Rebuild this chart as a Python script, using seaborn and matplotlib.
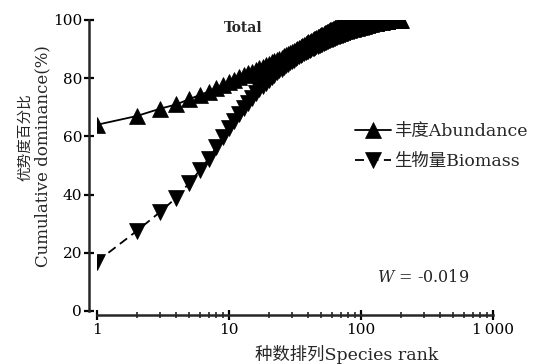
import numpy as np
import pandas as pd
import matplotlib
matplotlib.use("Agg")
import matplotlib.pyplot as plt
import seaborn as sns

# Cumulative dominance (%) of species ranked 1..200
abundance = [
    64.0, 67.0, 69.5, 71.0, 72.8, 74.2, 75.4, 76.6, 77.7, 78.7,
    79.5, 80.3, 81.0, 81.7, 82.3, 82.9, 83.5, 84.0, 84.5, 85.0,
    85.5, 85.9, 86.3, 86.7, 87.1, 87.5, 87.9, 88.3, 88.7, 89.1,
    89.4, 89.8, 90.1, 90.5, 90.8, 91.1, 91.4, 91.7, 92.0, 92.3,
    92.6, 92.9, 93.1, 93.4, 93.6, 93.9, 94.1, 94.3, 94.6, 94.8,
    95.0, 95.2, 95.4, 95.6, 95.8, 96.0, 96.2, 96.4, 96.5, 96.7,
    96.9, 97.0, 97.2, 97.3, 97.4, 97.6, 97.7, 97.8, 97.9, 98.0,
    98.1, 98.2, 98.3, 98.4, 98.5, 98.6, 98.7, 98.8, 98.85, 98.9,
    98.95, 99.0, 99.05, 99.1, 99.15, 99.2, 99.25, 99.3, 99.35, 99.4,
    99.43, 99.46, 99.49, 99.52, 99.55, 99.58, 99.6, 99.62, 99.64, 99.66,
    99.68, 99.7, 99.71, 99.72, 99.73, 99.74, 99.75, 99.76, 99.77, 99.78,
    99.79, 99.8, 99.81, 99.82, 99.83, 99.84, 99.85, 99.86, 99.87, 99.88,
    99.88, 99.89, 99.89, 99.9, 99.9, 99.91, 99.91, 99.92, 99.92, 99.93,
    99.93, 99.93, 99.94, 99.94, 99.94, 99.95, 99.95, 99.95, 99.95, 99.96,
    99.96, 99.96, 99.96, 99.96, 99.97, 99.97, 99.97, 99.97, 99.97, 99.97,
    99.98, 99.98, 99.98, 99.98, 99.98, 99.98, 99.98, 99.98, 99.98, 99.98,
    99.98, 99.98, 99.98, 99.98, 99.98, 99.99, 99.99, 99.99, 99.99, 99.99,
    99.99, 99.99, 99.99, 99.99, 99.99, 99.99, 99.99, 99.99, 99.99, 99.99,
    99.99, 99.99, 99.99, 99.99, 99.99, 100.0, 100.0, 100.0, 100.0, 100.0,
    100.0, 100.0, 100.0, 100.0, 100.0, 100.0, 100.0, 100.0, 100.0, 100.0,
]

biomass = [
    17.0, 27.5, 34.0, 39.0, 44.0, 48.3, 52.3, 56.2, 59.8, 62.8,
    65.3, 67.6, 69.7, 71.6, 73.3, 74.8, 76.2, 77.4, 78.5, 79.5,
    80.4, 81.2, 82.0, 82.7, 83.3, 83.9, 84.5, 85.0, 85.5, 86.0,
    86.4, 86.8, 87.2, 87.6, 88.0, 88.3, 88.6, 88.9, 89.2, 89.5,
    89.8, 90.1, 90.3, 90.5, 90.7, 90.9, 91.1, 91.3, 91.5, 91.7,
    91.9, 92.1, 92.3, 92.5, 92.7, 92.9, 93.0, 93.2, 93.3, 93.5,
    93.6, 93.8, 93.9, 94.0, 94.2, 94.3, 94.4, 94.5, 94.6, 94.7,
    94.8, 94.9, 95.0, 95.1, 95.2, 95.3, 95.4, 95.5, 95.6, 95.7,
    95.8, 95.9, 96.0, 96.1, 96.15, 96.2, 96.3, 96.35, 96.4, 96.5,
    96.55, 96.6, 96.7, 96.75, 96.8, 96.85, 96.9, 96.95, 97.0, 97.05,
    97.1, 97.15, 97.2, 97.25, 97.3, 97.35, 97.4, 97.45, 97.5, 97.55,
    97.6, 97.65, 97.7, 97.75, 97.8, 97.85, 97.9, 97.95, 98.0, 98.05,
    98.1, 98.15, 98.2, 98.25, 98.3, 98.35, 98.4, 98.45, 98.5, 98.55,
    98.6, 98.65, 98.7, 98.72, 98.75, 98.78, 98.8, 98.82, 98.85, 98.88,
    98.9, 98.92, 98.95, 98.98, 99.0, 99.02, 99.05, 99.07, 99.1, 99.12,
    99.15, 99.17, 99.2, 99.22, 99.25, 99.27, 99.3, 99.32, 99.35, 99.37,
    99.4, 99.42, 99.44, 99.46, 99.48, 99.5, 99.52, 99.54, 99.56, 99.58,
    99.6, 99.62, 99.64, 99.66, 99.68, 99.7, 99.72, 99.74, 99.76, 99.78,
    99.8, 99.82, 99.84, 99.85, 99.86, 99.88, 99.89, 99.9, 99.91, 99.92,
    99.93, 99.94, 99.95, 99.96, 99.97, 99.98, 99.985, 99.99, 99.995, 100.0,
]

ranks = list(range(1, len(abundance) + 1))

x_ticks = [1, 10, 100, 1000]
x_tick_labels = ["1", "10", "100", "1\u2009000"]
y_ticks = [0, 20, 40, 60, 80, 100]

label_abundance = "丰度Abundance"
label_biomass = "生物量Biomass"

sns.set_style("ticks")
serif_cjk = ["DejaVu Serif", "Noto Sans CJK SC"]
plt.rcParams["font.family"] = serif_cjk
plt.rcParams["mathtext.fontset"] = "dejavuserif"
plt.rcParams["axes.unicode_minus"] = False

W, H = 533, 364
fig = plt.figure(figsize=(W / 100, H / 100), dpi=100)
ax = fig.add_axes([97 / W, (H - 311) / H, (493 - 97) / W, (311 - 20) / H])

df = pd.DataFrame({"rank": ranks, "abundance": abundance, "biomass": biomass})

sns.lineplot(data=df, x="rank", y="biomass", ax=ax, color="black",
             linestyle=(0, (5, 3)), linewidth=1.3, marker="v", markersize=12,
             markeredgecolor="black", markeredgewidth=0.5, label=label_biomass,
             legend=False)
sns.lineplot(data=df, x="rank", y="abundance", ax=ax, color="black",
             linestyle="-", linewidth=1.3, marker="^", markersize=12,
             markeredgecolor="black", markeredgewidth=0.5, label=label_abundance,
             legend=False)

ax.set_xscale("log")
ax.set_xlim(1, 1000)
ax.set_ylim(0, 100)
ax.set_xticks(x_ticks)
ax.set_xticklabels(x_tick_labels)
ax.set_yticks(y_ticks)
ax.xaxis.set_minor_locator(matplotlib.ticker.LogLocator(base=10, subs=np.arange(2, 10)))
ax.xaxis.set_minor_formatter(matplotlib.ticker.NullFormatter())
ax.set_xlabel("")
ax.set_ylabel("")

for side in ("top", "right"):
    ax.spines[side].set_visible(False)
ax.spines["left"].set_position(("outward", 5.8))
ax.spines["bottom"].set_position(("outward", 3.0))
for side in ("left", "bottom"):
    ax.spines[side].set_linewidth(1.8)

ax.tick_params(axis="both", which="major", direction="inout", length=7,
               width=1.6, labelsize=11, colors="black")
ax.tick_params(axis="y", pad=1.5)
ax.tick_params(axis="x", pad=2.5)
ax.tick_params(axis="x", which="minor", direction="inout", length=4, width=1.2)

# Axis titles: Chinese line and English line
fig.text(25.5 / W, 1 - 137 / H, "优势度百分比", rotation=90, ha="center",
         va="center", fontsize=10.5)
fig.text(43 / W, 1 - 156 / H, "Cumulative dominance(%)", rotation=90,
         ha="center", va="center", fontsize=12)
fig.text(347 / W, 1 - 355 / H, "种数排列Species rank", ha="center",
         va="center", fontsize=12.5)

ax.text(0.368, 0.972, "Total", transform=ax.transAxes, ha="center", va="center",
        fontsize=10, fontweight="bold")
ax.text(377 / W, 1 - 278 / H, "$W$ = -0.019", transform=fig.transFigure,
        ha="left", va="center", fontsize=11.5)

handles, labels = ax.get_legend_handles_labels()
order = [labels.index(label_abundance), labels.index(label_biomass)]
leg = ax.legend([handles[i] for i in order], [labels[i] for i in order],
                loc="upper left", bbox_to_anchor=(355 / W, 1 - 123 / H),
                bbox_transform=fig.transFigure, frameon=False, numpoints=1,
                handlelength=2.1, handletextpad=0.15, labelspacing=0.75,
                borderpad=0, borderaxespad=0, fontsize=12.5)

fig.savefig("out.png", dpi=100)
